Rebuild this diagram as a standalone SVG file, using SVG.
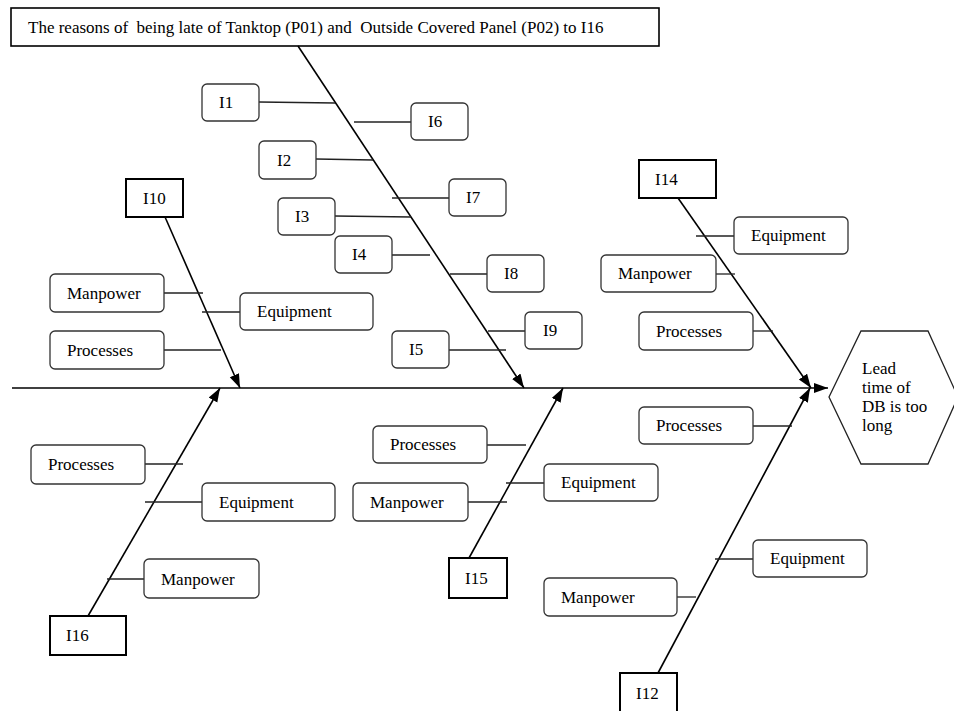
<svg xmlns="http://www.w3.org/2000/svg" width="954" height="711" viewBox="0 0 954 711">
<style>
text{font-family:"Liberation Serif","Times New Roman",serif;font-size:17px;fill:#000}
.pre{white-space:pre}
.rb{fill:#fff;stroke:#333;stroke-width:1.3}
.tb{fill:#fff;stroke:#000;stroke-width:2}
.bone{stroke:#000;stroke-width:1.6;fill:none;marker-end:url(#ah)}
.br{stroke:#222;stroke-width:1.3;fill:none}
</style>
<defs>
<marker id="ah" markerUnits="userSpaceOnUse" markerWidth="15" markerHeight="11" refX="14" refY="5" orient="auto">
<path d="M0,0 L14,5 L0,10 z" fill="#000"/>
</marker>
</defs>
<rect width="954" height="711" fill="#fff"/>

<g id="title"><rect x="11" y="8" width="648" height="38" fill="#fff" stroke="#000" stroke-width="1.6"/><text class="pre" xml:space="preserve" x="28" y="33">The reasons of  being late of Tanktop (P01) and  Outside Covered Panel (P02) to I16</text></g>

<g id="connectors">
<line class="bone" x1="12" y1="388" x2="828" y2="388"/>
<line class="bone" x1="298" y1="46" x2="524" y2="388"/>
<line class="bone" x1="165" y1="217" x2="240" y2="388"/>
<line class="bone" x1="678" y1="198" x2="811" y2="388"/>
<line class="bone" x1="88" y1="616" x2="220" y2="388"/>
<line class="bone" x1="469" y1="558" x2="563" y2="388"/>
<line class="bone" x1="658" y1="673" x2="810" y2="388"/>
<line class="br" x1="259" y1="102" x2="335" y2="103"/>
<line class="br" x1="354" y1="122" x2="411" y2="122"/>
<line class="br" x1="316" y1="159" x2="373" y2="160"/>
<line class="br" x1="392" y1="198" x2="449" y2="198"/>
<line class="br" x1="335" y1="216" x2="411" y2="217"/>
<line class="br" x1="392" y1="255" x2="430" y2="255"/>
<line class="br" x1="450" y1="274" x2="487" y2="274"/>
<line class="br" x1="488" y1="331" x2="525" y2="331"/>
<line class="br" x1="449" y1="350" x2="506" y2="350"/>
<line class="br" x1="164" y1="293" x2="203" y2="293"/>
<line class="br" x1="202" y1="312" x2="240" y2="312"/>
<line class="br" x1="164" y1="350" x2="221" y2="350"/>
<line class="br" x1="696" y1="236" x2="734" y2="236"/>
<line class="br" x1="716" y1="274" x2="735" y2="274"/>
<line class="br" x1="753" y1="331" x2="773" y2="331"/>
<line class="br" x1="145" y1="464" x2="183" y2="464"/>
<line class="br" x1="145" y1="502" x2="202" y2="502"/>
<line class="br" x1="107" y1="579" x2="144" y2="579"/>
<line class="br" x1="487" y1="445" x2="526" y2="445"/>
<line class="br" x1="506" y1="483" x2="544" y2="483"/>
<line class="br" x1="468" y1="502" x2="507" y2="502"/>
<line class="br" x1="753" y1="426" x2="792" y2="426"/>
<line class="br" x1="715" y1="559" x2="753" y2="559"/>
<line class="br" x1="677" y1="597" x2="696" y2="597"/>
</g>

<g id="effect"><polygon points="829,397 861,331 928,331 958,397 928,464 861,464" fill="#fff" stroke="#222" stroke-width="1.3"/>
<text x="862" y="374">Lead</text><text x="862" y="393">time of</text><text x="862" y="412">DB is too</text><text x="862" y="431">long</text></g>

<g id="n-I1"><rect class="rb" x="202" y="84" width="57" height="37" rx="5"/><text x="219" y="108">I1</text></g>
<g id="n-I6"><rect class="rb" x="411" y="103" width="57" height="37" rx="5"/><text x="428" y="127">I6</text></g>
<g id="n-I2"><rect class="rb" x="259" y="141" width="57" height="38" rx="5"/><text x="277" y="166">I2</text></g>
<g id="n-I7"><rect class="rb" x="449" y="179" width="57" height="37" rx="5"/><text x="466" y="203">I7</text></g>
<g id="n-I3"><rect class="rb" x="278" y="198" width="57" height="37" rx="5"/><text x="295" y="222">I3</text></g>
<g id="n-I4"><rect class="rb" x="335" y="236" width="57" height="37" rx="5"/><text x="352" y="260">I4</text></g>
<g id="n-I8"><rect class="rb" x="487" y="255" width="57" height="37" rx="5"/><text x="504" y="279">I8</text></g>
<g id="n-I9"><rect class="rb" x="525" y="312" width="57" height="37" rx="5"/><text x="543" y="336">I9</text></g>
<g id="n-I5"><rect class="rb" x="392" y="331" width="57" height="37" rx="5"/><text x="409" y="355">I5</text></g>

<g id="n-I10"><rect class="tb" x="126" y="179" width="57" height="38"/><text x="143" y="204">I10</text></g>
<g id="n-I10-man"><rect class="rb" x="50" y="274" width="114" height="38" rx="5"/><text x="67" y="299">Manpower</text></g>
<g id="n-I10-equ"><rect class="rb" x="240" y="293" width="133" height="37" rx="5"/><text x="257" y="317">Equipment</text></g>
<g id="n-I10-pro"><rect class="rb" x="50" y="331" width="114" height="38" rx="5"/><text x="67" y="356">Processes</text></g>

<g id="n-I14"><rect class="tb" x="639" y="160" width="77" height="38"/><text x="655" y="185">I14</text></g>
<g id="n-I14-equ"><rect class="rb" x="734" y="217" width="114" height="37" rx="5"/><text x="751" y="241">Equipment</text></g>
<g id="n-I14-man"><rect class="rb" x="601" y="255" width="115" height="37" rx="5"/><text x="618" y="279">Manpower</text></g>
<g id="n-I14-pro"><rect class="rb" x="639" y="312" width="114" height="38" rx="5"/><text x="656" y="337">Processes</text></g>

<g id="n-I16"><rect class="tb" x="50" y="616" width="76" height="39"/><text x="66" y="641">I16</text></g>
<g id="n-I16-pro"><rect class="rb" x="31" y="445" width="114" height="39" rx="5"/><text x="48" y="470">Processes</text></g>
<g id="n-I16-equ"><rect class="rb" x="202" y="483" width="133" height="38" rx="5"/><text x="219" y="508">Equipment</text></g>
<g id="n-I16-man"><rect class="rb" x="144" y="559" width="115" height="39" rx="5"/><text x="161" y="585">Manpower</text></g>

<g id="n-I15"><rect class="tb" x="449" y="558" width="58" height="40"/><text x="465" y="584">I15</text></g>
<g id="n-I15-pro"><rect class="rb" x="373" y="426" width="114" height="37" rx="5"/><text x="390" y="450">Processes</text></g>
<g id="n-I15-equ"><rect class="rb" x="544" y="464" width="114" height="37" rx="5"/><text x="561" y="488">Equipment</text></g>
<g id="n-I15-man"><rect class="rb" x="353" y="483" width="115" height="38" rx="5"/><text x="370" y="508">Manpower</text></g>

<g id="n-I12"><rect class="tb" x="620" y="673" width="57" height="40"/><text x="636" y="699">I12</text></g>
<g id="n-I12-pro"><rect class="rb" x="639" y="407" width="114" height="37" rx="5"/><text x="656" y="431">Processes</text></g>
<g id="n-I12-equ"><rect class="rb" x="753" y="540" width="114" height="37" rx="5"/><text x="770" y="564">Equipment</text></g>
<g id="n-I12-man"><rect class="rb" x="544" y="578" width="133" height="38" rx="5"/><text x="561" y="603">Manpower</text></g>
</svg>
